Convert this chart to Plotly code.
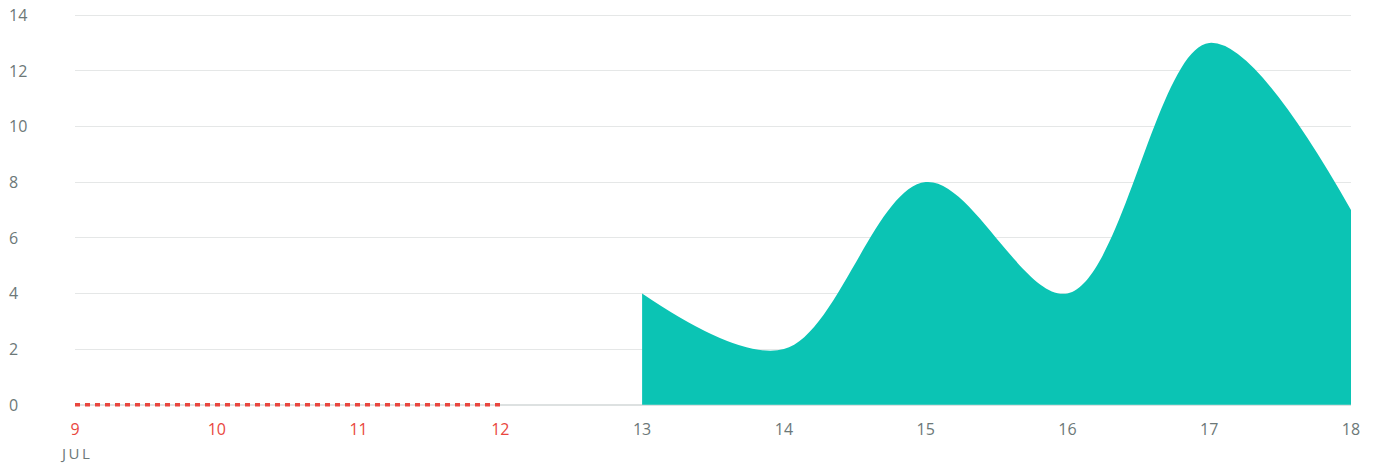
import plotly.graph_objects as go

days = [9, 10, 11, 12, 13, 14, 15, 16, 17, 18]
day_labels = ["9", "10", "11", "12", "13", "14", "15", "16", "17", "18"]
missing_days = [9, 10, 11, 12]
missing_values = [0, 0, 0, 0]
area_days = [13, 14, 15, 16, 17, 18]
area_values = [4, 2, 8, 4, 13, 7]
y_ticks = [0, 2, 4, 6, 8, 10, 12, 14]
month_label = "JUL"

GRAY = "#6c7878"
RED = "#e9463e"
TEAL = "#0bc4b4"
FONT = "Open Sans"

fig = go.Figure()
fig.add_trace(go.Scatter(
    x=area_days, y=area_values, mode="lines",
    line=dict(shape="spline", smoothing=1.0, width=0, color=TEAL),
    fill="tozeroy", fillcolor=TEAL, hoverinfo="skip"))
fig.add_trace(go.Scatter(
    x=missing_days, y=missing_values, mode="lines",
    line=dict(color=RED, width=3.5, dash="5px,5px"), hoverinfo="skip"))

tick_text = [
    f"<span style='color:{RED}'>{t}</span>" if d in missing_days else t
    for d, t in zip(days, day_labels)
]

annotations = [
    dict(x=0, xref="paper", xshift=-68, xanchor="left", y=v, yref="y",
         yanchor="middle", text=str(v), showarrow=False,
         font=dict(family=FONT, size=16, color=GRAY))
    for v in y_ticks
]
annotations.append(dict(x=days[0], xref="x", y=0, yref="paper", yshift=-46,
                        xanchor="center", yanchor="middle",
                        text="\u2009".join(month_label), showarrow=False,
                        font=dict(family=FONT, size=15, color=GRAY)))

fig.update_layout(
    width=1374, height=463,
    margin=dict(l=75, r=23, t=14, b=56),
    plot_bgcolor="white", paper_bgcolor="white",
    showlegend=False,
    font=dict(family=FONT, size=16, color=GRAY),
    xaxis=dict(range=[days[0], days[-1]], tickvals=days, ticktext=tick_text,
               showgrid=False, zeroline=False, showline=False, ticks="",
               ticklabelstandoff=11, tickfont=dict(size=16, color=GRAY)),
    yaxis=dict(range=[-0.08, 14.04], tickvals=y_ticks, showticklabels=False,
               showgrid=True, gridcolor="#e5e7e7", gridwidth=1,
               zeroline=True, zerolinecolor="#dde1e1", zerolinewidth=2,
               showline=False),
    annotations=annotations,
)

fig.write_html("out.html", config={"displayModeBar": False},
               post_script="document.body.style.margin='0';")
